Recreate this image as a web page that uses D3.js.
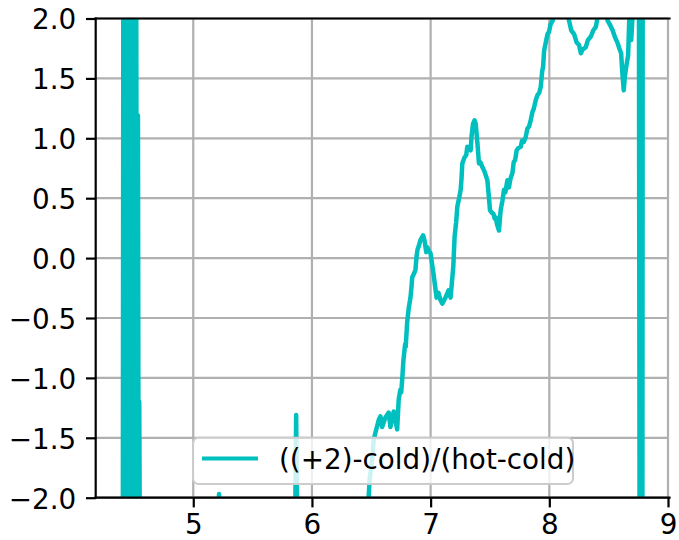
<!DOCTYPE html>
<html>
<head>
<meta charset="utf-8">
<script src="https://cdn.jsdelivr.net/npm/d3@7"></script>
<style>
  html, body { margin: 0; padding: 0; background: #ffffff; }
  svg { display: block; }
  text { font-family: "DejaVu Sans", sans-serif; }
</style>
</head>
<body>
<div id="chart"></div>
<script>
// ---------------- data ----------------
const seriesLabel = "((+2)-cold)/(hot-cold)";
const xTicks = [5, 6, 7, 8, 9];
const yTicks = [-2.0, -1.5, -1.0, -0.5, 0.0, 0.5, 1.0, 1.5, 2.0];

const xData = [
  4.406, 4.411, 4.416, 4.421, 4.426, 4.431, 4.436, 4.441, 4.446, 4.451, 4.456, 4.461,
  4.466, 4.471, 4.476, 4.481, 4.486, 4.491, 4.496, 4.501, 4.506, 4.511, 4.516, 4.519,
  4.527, 4.534, 4.540, 4.545, 4.552,
  4.600, 4.750, 4.900, 5.050, 5.150, 5.205, 5.217, 5.229, 5.350, 5.500, 5.650, 5.780,
  5.855, 5.867, 5.879, 6.000, 6.150, 6.300, 6.420, 6.466,
  6.486, 6.507, 6.520, 6.534, 6.563, 6.577, 6.591, 6.619, 6.647, 6.661, 6.689, 6.718,
  6.731, 6.745, 6.752, 6.760, 6.771, 6.785, 6.790, 6.802, 6.815, 6.830, 6.838, 6.845,
  6.855, 6.872, 6.880, 6.889, 6.900, 6.914, 6.925, 6.937, 6.950, 6.963, 6.971, 6.985,
  6.999, 7.024, 7.050, 7.066, 7.083, 7.098, 7.125, 7.151, 7.168, 7.191, 7.202, 7.215,
  7.225, 7.240, 7.253, 7.260, 7.267, 7.285, 7.300, 7.309, 7.320, 7.337, 7.345, 7.357,
  7.370, 7.380, 7.395, 7.407, 7.420, 7.436, 7.455, 7.478, 7.490, 7.500, 7.515, 7.529,
  7.540, 7.548, 7.560, 7.576, 7.583, 7.590, 7.605, 7.618, 7.630, 7.647, 7.660, 7.672,
  7.689, 7.700, 7.712, 7.725, 7.740, 7.759, 7.770, 7.785, 7.801, 7.815, 7.830, 7.843,
  7.858, 7.870, 7.886, 7.900, 7.915, 7.928, 7.940, 7.948, 7.956, 7.970, 7.985, 7.998,
  8.010, 8.027, 8.055, 8.139, 8.167, 8.185, 8.209, 8.230, 8.250, 8.266, 8.280, 8.307,
  8.325, 8.350, 8.370, 8.392, 8.418, 8.469, 8.492, 8.510, 8.534, 8.555, 8.577, 8.590,
  8.605, 8.615, 8.627, 8.637, 8.647, 8.655, 8.664, 8.676, 8.690, 8.704, 8.732,
  8.755, 8.7615, 8.765, 8.769, 8.773, 8.777, 8.781, 8.784, 8.787, 8.820, 8.900, 8.990
];
const yData = [
  -3.1, 2.7, -2.8, 3.4, -2.5, 2.9, -3.6, 2.6, -2.9, 3.1, -2.4, 3.3,
  -2.7, 2.8, -3.2, 2.5, -2.6, 3.0, -3.3, 2.7, -2.5, 3.2, -2.8, 2.6,
  -2.9, 1.19, -2.6, -1.20, -2.9,
  -2.8, -3.5, -2.6, -3.0, -2.5, -2.4, -1.97, -2.4, -2.9, -3.4, -2.7, -3.1,
  -2.6, -1.31, -2.6, -3.2, -2.8, -3.6, -2.5, -2.2,
  -1.85, -1.68, -1.52, -1.46, -1.35, -1.32, -1.41, -1.33, -1.29, -1.41, -1.28, -1.43,
  -1.18, -1.10, -1.12, -1.02, -0.85, -0.72, -0.74, -0.54, -0.42, -0.33, -0.25, -0.16,
  -0.14, -0.10, 0.00, 0.07, 0.10, 0.15, 0.17, 0.19, 0.14, 0.05, 0.09, 0.06,
  0.04, -0.13, -0.33, -0.29, -0.35, -0.38, -0.33, -0.27, -0.33, -0.07, 0.18, 0.30,
  0.43, 0.50, 0.57, 0.66, 0.79, 0.84, 0.86, 0.93, 0.92, 0.90, 1.02, 1.12,
  1.15, 1.12, 0.95, 0.79, 0.80, 0.76, 0.72, 0.65, 0.52, 0.40, 0.38, 0.37,
  0.33, 0.34, 0.28, 0.23, 0.32, 0.40, 0.48, 0.57, 0.55, 0.65, 0.59, 0.66,
  0.71, 0.80, 0.82, 0.90, 0.92, 0.93, 0.98, 0.97, 1.01, 1.08, 1.10, 1.15,
  1.22, 1.25, 1.32, 1.36, 1.38, 1.43, 1.56, 1.60, 1.73, 1.80, 1.87, 1.89,
  1.95, 1.98, 2.10, 2.10, 1.98, 1.90, 1.87, 1.80, 1.78, 1.71, 1.74, 1.76,
  1.82, 1.85, 1.90, 1.93, 2.07, 2.07, 1.98, 1.95, 1.90, 1.84, 1.79, 1.75,
  1.71, 1.55, 1.40, 1.52, 1.59, 1.64, 1.69, 2.07, 1.82, 2.07, 2.11,
  2.30, -3.0, 2.8, -2.7, 3.1, -3.2, 2.6, -2.8, 2.9, 2.6, 2.8, 2.5
];

// ---------------- layout ----------------
const W = 679, H = 540;
const plot = { left: 95.7, right: 668, top: 18.5, bottom: 497.7 };
const FS = 27.8;
const lineColor = "#00bfbf";

const svg = d3.select("#chart").append("svg")
  .attr("width", W).attr("height", H)
  .attr("viewBox", `0 0 ${W} ${H}`);

svg.append("rect").attr("width", W).attr("height", H).attr("fill", "#ffffff");

const x = d3.scaleLinear().domain([4.178, 9.0]).range([plot.left, plot.right]);
const y = d3.scaleLinear().domain([-2, 2]).range([plot.bottom, plot.top]);

// grid
const grid = svg.append("g");
grid.selectAll("line.gx").data(xTicks).join("line")
  .attr("x1", d => x(d)).attr("x2", d => x(d))
  .attr("y1", plot.top).attr("y2", plot.bottom)
  .attr("stroke", "#b0b0b0").attr("stroke-width", 2.2);
grid.selectAll("line.gy").data(yTicks).join("line")
  .attr("x1", plot.left).attr("x2", plot.right)
  .attr("y1", d => y(d)).attr("y2", d => y(d))
  .attr("stroke", "#b0b0b0").attr("stroke-width", 2.2);

// clip
svg.append("clipPath").attr("id", "clip").append("rect")
  .attr("x", plot.left).attr("y", plot.top)
  .attr("width", plot.right - plot.left).attr("height", plot.bottom - plot.top);

const pts = xData.map((d, i) => [d, yData[i]]);
const line = d3.line().x(d => x(d[0])).y(d => y(d[1]));
svg.append("g").attr("clip-path", "url(#clip)")
  .append("path")
  .attr("d", line(pts))
  .attr("fill", "none")
  .attr("stroke", lineColor)
  .attr("stroke-width", 4.5)
  .attr("stroke-linejoin", "round")
  .attr("stroke-linecap", "square");

// spines (left, top, bottom; right edge shows grid only)
const spines = svg.append("g").attr("stroke", "#000").attr("stroke-width", 2.2).attr("stroke-linecap", "square");
spines.append("line").attr("x1", plot.left).attr("x2", plot.left).attr("y1", plot.top).attr("y2", plot.bottom);
spines.append("line").attr("x1", plot.left).attr("x2", plot.right + 1.5).attr("y1", plot.top).attr("y2", plot.top);
spines.append("line").attr("x1", plot.left).attr("x2", plot.right + 1.5).attr("y1", plot.bottom).attr("y2", plot.bottom);

// axes
const fmtY = d => d3.format(".1f")(d).replace("-", "\u2212");
const xAxis = d3.axisBottom(x).tickValues(xTicks).tickFormat(d3.format("d")).tickSize(9.7).tickPadding(8);
const yAxis = d3.axisLeft(y).tickValues(yTicks).tickFormat(fmtY).tickSize(9.7).tickPadding(9.7);

const gx = svg.append("g").attr("transform", `translate(0,${plot.bottom})`).call(xAxis);
const gy = svg.append("g").attr("transform", `translate(${plot.left},0)`).call(yAxis);
[gx, gy].forEach(g => {
  g.select(".domain").remove();
  g.selectAll(".tick line").attr("stroke", "#000").attr("stroke-width", 2.2);
  g.selectAll(".tick text").attr("fill", "#000")
    .style("font-family", "'DejaVu Sans', sans-serif").style("font-size", FS + "px");
});
gx.selectAll(".tick text").attr("dy", null).attr("y", 36);
gy.selectAll(".tick text").attr("dy", null).attr("y", 10.4);

// legend
const lg = svg.append("g");
lg.append("rect")
  .attr("x", 193).attr("y", 437.7).attr("width", 380).attr("height", 46.3)
  .attr("rx", 5.5).attr("ry", 5.5)
  .attr("fill", "#ffffff").attr("fill-opacity", 0.8)
  .attr("stroke", "#cccccc").attr("stroke-width", 2);
lg.append("line")
  .attr("x1", 202).attr("x2", 258).attr("y1", 458.5).attr("y2", 458.5)
  .attr("stroke", lineColor).attr("stroke-width", 4.2);
lg.append("text")
  .attr("x", 279).attr("y", 468.5)
  .attr("fill", "#000")
  .style("font-size", FS + "px")
  .text(seriesLabel);
</script>
</body>
</html>
